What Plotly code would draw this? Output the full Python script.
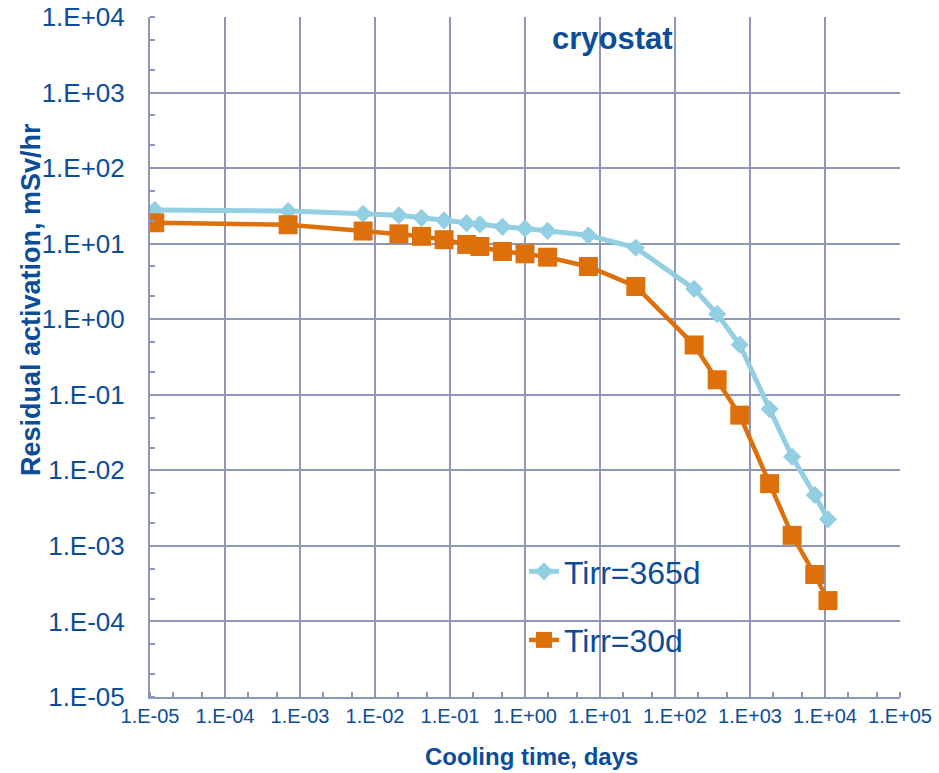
import plotly.graph_objects as go

# Cooling time in days
cooling_time = [1.157e-5, 6.944e-4, 6.944e-3, 0.02083, 0.04167, 0.08333, 0.1667, 0.25, 0.5, 1, 2, 7, 30,
                180, 365, 730, 1826, 3650, 7300, 10950]
# Residual activation, mSv/hr
tirr_365d = [28.0, 27.0, 24.9, 23.7, 22.0, 20.3, 18.7, 18.0, 16.7, 15.9, 14.8, 12.9, 8.83,
             2.52, 1.17, 0.46, 0.0646, 0.0151, 0.00472, 0.00225]
tirr_30d = [18.9, 17.8, 14.7, 13.5, 12.5, 11.3, 9.76, 9.18, 7.88, 7.34, 6.62, 4.99, 2.71,
            0.456, 0.158, 0.0538, 0.00667, 0.00138, 0.000418, 0.000189]

x_tickvals = [1e-5, 1e-4, 1e-3, 1e-2, 1e-1, 1e0, 1e1, 1e2, 1e3, 1e4, 1e5]
x_ticktext = ["1.E-05", "1.E-04", "1.E-03", "1.E-02", "1.E-01", "1.E+00", "1.E+01", "1.E+02",
              "1.E+03", "1.E+04", "1.E+05"]
y_tickvals = [1e-5, 1e-4, 1e-3, 1e-2, 1e-1, 1e0, 1e1, 1e2, 1e3, 1e4]
y_ticktext = ["1.E-05", "1.E-04", "1.E-03", "1.E-02", "1.E-01", "1.E+00", "1.E+01", "1.E+02",
              "1.E+03", "1.E+04"]

BLUE = "#93CFE2"
ORANGE = "#DE700B"
TXT = "#0B4D98"
GRID = "#8E97B7"
FONT = "Liberation Sans, Arial, sans-serif"

PL, PR, PT, PB = 150, 900, 17, 697  # plot area in pixels
PW, PH = PR - PL, PB - PT

def px(xp):
    return (xp - PL) / PW

def py(yp):
    return (PB - yp) / PH

fig = go.Figure()
fig.add_trace(go.Scatter(
    x=cooling_time, y=tirr_365d, mode="lines+markers", name="Tirr=365d",
    line=dict(color=BLUE, width=5),
    marker=dict(symbol="diamond", size=14, color=BLUE),
    legendgroup="a",
))
fig.add_trace(go.Scatter(
    x=cooling_time, y=tirr_30d, mode="lines+markers", name="Tirr=30d",
    line=dict(color=ORANGE, width=4.5),
    marker=dict(symbol="square", size=19, color=ORANGE),
    legendgroup="b",
))

fig.update_layout(
    width=939, height=773,
    margin=dict(l=PL, r=939 - PR, t=PT, b=773 - PB, autoexpand=False),
    paper_bgcolor="white", plot_bgcolor="white",
    font=dict(family=FONT, color=TXT),
    showlegend=True,
    legend=dict(
        x=px(524), y=py(544), xanchor="left", yanchor="top",
        font=dict(size=32, color=TXT, family=FONT),
        bgcolor="rgba(0,0,0,0)",
        traceorder="grouped", tracegroupgap=24,
        itemwidth=30,
    ),
)

fig.add_annotation(text="<b>cryostat</b>", xref="paper", yref="paper",
                   x=px(612), y=py(38), xanchor="center", yanchor="middle", showarrow=False,
                   font=dict(size=31, color=TXT, family=FONT))
fig.add_annotation(text="<b>Cooling time, days</b>", xref="paper", yref="paper",
                   x=px(531), y=py(757), xanchor="center", yanchor="middle", showarrow=False,
                   font=dict(size=24, color=TXT, family=FONT))
fig.add_annotation(text="<b>Residual activation, mSv/hr</b>", xref="paper", yref="paper",
                   x=px(31), y=py(300), xanchor="center", yanchor="middle", showarrow=False,
                   textangle=-90, font=dict(size=27, color=TXT, family=FONT))

fig.update_xaxes(
    type="log", range=[-5, 5], automargin=False,
    tickvals=x_tickvals, ticktext=x_ticktext,
    tickfont=dict(size=20, color=TXT, family=FONT),
    showgrid=True, gridcolor=GRID, gridwidth=2,
    showline=True, linecolor=GRID, linewidth=2,
    ticks="", zeroline=False,
    minor=dict(ticks="inside", ticklen=5, tickcolor=GRID, tickwidth=1.5, showgrid=False),
)
fig.update_yaxes(
    type="log", range=[-5, 4], automargin=False,
    tickvals=y_tickvals, ticktext=y_ticktext,
    tickfont=dict(size=26, color=TXT, family=FONT),
    showgrid=True, gridcolor=GRID, gridwidth=2,
    showline=True, linecolor=GRID, linewidth=2,
    ticks="", zeroline=False,
    ticklabelstandoff=18,
    minor=dict(ticks="inside", ticklen=5, tickcolor=GRID, tickwidth=1.5, showgrid=False),
)

fig.write_html("out.html")
